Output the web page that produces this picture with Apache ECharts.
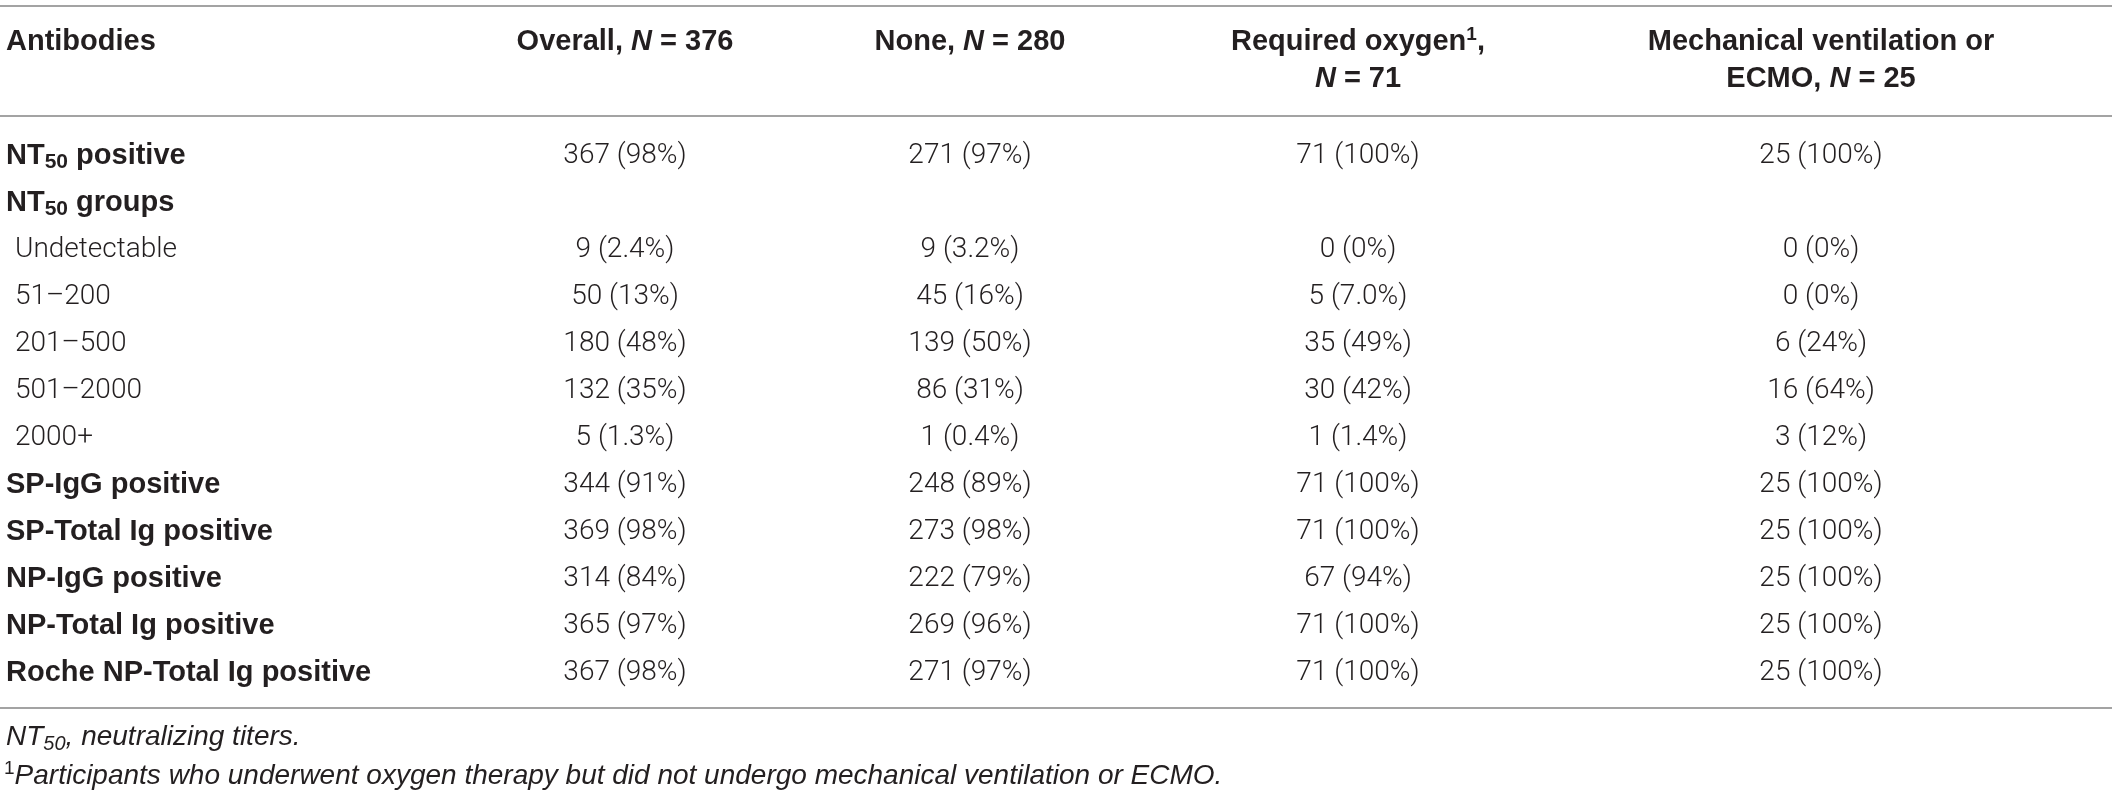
<!DOCTYPE html>
<html>
<head>
<meta charset="utf-8">
<title>Antibodies by respiratory support</title>
<script src="https://cdn.jsdelivr.net/npm/echarts@6.0.0/dist/echarts.min.js"></script>
<style>
    html, body { margin: 0; padding: 0; background: #fff; }
    #chart { width: 2118px; height: 794px; }
</style>
</head>
<body>
<div id="chart"></div>
<script>
// 表头 (two lines per column, {bi|..} = italic, {sup|..} = superscript)
const headerLine1 = ["Antibodies", "Overall, {bi|N} = 376", "None, {bi|N} = 280", "Required oxygen{sup|1},", "Mechanical ventilation or"];
const headerLine2 = ["", "", "", "{bi|N} = 71", "ECMO, {bi|N} = 25"];

// 行
const rowLabels = [
    "NT{sub|50} positive",
    "NT{sub|50} groups",
    "Undetectable",
    "51–200",
    "201–500",
    "501–2000",
    "2000+",
    "SP-IgG positive",
    "SP-Total Ig positive",
    "NP-IgG positive",
    "NP-Total Ig positive",
    "Roche NP-Total Ig positive"
];
// sub-group rows (the NT50 groups)
const subRows = [false, false, true, true, true, true, true, false, false, false, false, false];

// 数据
const overall = ["367 (98%)", "", "9 (2.4%)", "50 (13%)", "180 (48%)", "132 (35%)", "5 (1.3%)", "344 (91%)", "369 (98%)", "314 (84%)", "365 (97%)", "367 (98%)"];
const none = ["271 (97%)", "", "9 (3.2%)", "45 (16%)", "139 (50%)", "86 (31%)", "1 (0.4%)", "248 (89%)", "273 (98%)", "222 (79%)", "269 (96%)", "271 (97%)"];
const oxygen = ["71 (100%)", "", "0 (0%)", "5 (7.0%)", "35 (49%)", "30 (42%)", "1 (1.4%)", "71 (100%)", "71 (100%)", "67 (94%)", "71 (100%)", "71 (100%)"];
const mechanical = ["25 (100%)", "", "0 (0%)", "0 (0%)", "6 (24%)", "16 (64%)", "3 (12%)", "25 (100%)", "25 (100%)", "25 (100%)", "25 (100%)", "25 (100%)"];

// 脚注
const footnotes = [
    "{i|NT}{isub|50}{i|, neutralizing titers.}",
    "{isup|1}{i|Participants who underwent oxygen therapy but did not undergo mechanical ventilation or ECMO.}"
];

(function () {
    const W = 2118;
    const TEXT = "#231f20";
    const RULE = "#a3a3a3";
    const BOLD = "'Liberation Sans', Arial, sans-serif";
    const LIGHT = "Roboto, 'Liberation Sans', sans-serif";
    const FS = 28;
    const FSB = 29;
    // label column left edge, then centres of the value columns
    const colX = [6, 625, 970, 1358, 1821];
    const subIndent = 9;
    const valueCols = [overall, none, oxygen, mechanical];

    const rich = {
        b: { fontFamily: BOLD, fontWeight: "bold", fontSize: FSB, fill: TEXT },
        bi: { fontFamily: BOLD, fontWeight: "bold", fontStyle: "italic", fontSize: FSB, fill: TEXT },
        sup: { fontFamily: BOLD, fontWeight: "bold", fontSize: 19, fill: TEXT, padding: [0, 0, 14, 0] },
        sub: { fontFamily: BOLD, fontWeight: "bold", fontSize: 21, fill: TEXT, padding: [14, 0, 0, 0] },
        v: { fontFamily: LIGHT, fontWeight: 300, fontSize: FS, fill: TEXT },
        i: { fontFamily: BOLD, fontStyle: "italic", fontSize: 28, fill: TEXT },
        isub: { fontFamily: BOLD, fontStyle: "italic", fontSize: 20, fill: TEXT, padding: [14, 0, 0, 0] },
        isup: { fontFamily: BOLD, fontSize: 19, fill: TEXT, padding: [0, 0, 14, 0] }
    };

    // header cells
    let headCells = [];
    [headerLine1, headerLine2].forEach(function (line, li) {
        line.forEach(function (t, c) {
            if (t) headCells.push({ x: colX[c], row: li, text: t, align: c === 0 ? "left" : "center", bold: true });
        });
    });

    // body cells
    let bodyCells = [];
    rowLabels.forEach(function (t, r) {
        bodyCells.push({ x: colX[0] + (subRows[r] ? subIndent : 0), row: r, text: t, align: "left", bold: !subRows[r] });
        valueCols.forEach(function (col, c) {
            if (col[r]) bodyCells.push({ x: colX[c + 1], row: r, text: col[r], align: "center", bold: false });
        });
    });

    function cellRender(cells) {
        return function (params, api) {
            let cell = cells[params.dataIndex];
            let pt = api.coord([api.value(0), api.value(1)]);
            return {
                type: "text",
                x: pt[0],
                y: pt[1],
                style: {
                    text: cell.text,
                    align: cell.align,
                    verticalAlign: "middle",
                    fill: TEXT,
                    fontSize: cell.bold ? FSB : FS,
                    fontFamily: cell.bold ? BOLD : LIGHT,
                    fontWeight: cell.bold ? "bold" : 300,
                    rich: rich
                }
            };
        };
    }

    function rule(y) {
        return {
            type: "line",
            shape: { x1: 0, y1: y, x2: 2112, y2: y },
            style: { stroke: RULE, lineWidth: 2 }
        };
    }

    let myChart = echarts.init(document.getElementById("chart"), null, { renderer: "canvas" });
    let option = {
        backgroundColor: "#fff",
        animation: false,
        grid: [
            { left: 0, width: W, top: 42, height: 37 },
            { left: 0, width: W, top: 132, height: 564 }
        ],
        xAxis: [
            { type: "value", gridIndex: 0, min: 0, max: W, show: false },
            { type: "value", gridIndex: 1, min: 0, max: W, show: false }
        ],
        yAxis: [
            { type: "category", gridIndex: 0, data: ["line1", "line2"], boundaryGap: false, inverse: true, show: false },
            { type: "category", gridIndex: 1, data: rowLabels, inverse: true, show: false }
        ],
        series: [
            {
                type: "custom",
                xAxisIndex: 0,
                yAxisIndex: 0,
                silent: true,
                renderItem: cellRender(headCells),
                data: headCells.map(function (c) { return [c.x, c.row]; })
            },
            {
                type: "custom",
                xAxisIndex: 1,
                yAxisIndex: 1,
                silent: true,
                renderItem: cellRender(bodyCells),
                data: bodyCells.map(function (c) { return [c.x, c.row]; })
            }
        ],
        graphic: [
            rule(6),
            rule(116),
            rule(708),
            {
                type: "text",
                x: 6,
                y: 737,
                style: { text: footnotes[0], verticalAlign: "middle", rich: rich, fill: TEXT }
            },
            {
                type: "text",
                x: 4,
                y: 776,
                style: { text: footnotes[1], verticalAlign: "middle", rich: rich, fill: TEXT }
            }
        ]
    };
    myChart.setOption(option);
    window.addEventListener("resize", function () {
        myChart.resize();
    });
})();
</script>
</body>
</html>
